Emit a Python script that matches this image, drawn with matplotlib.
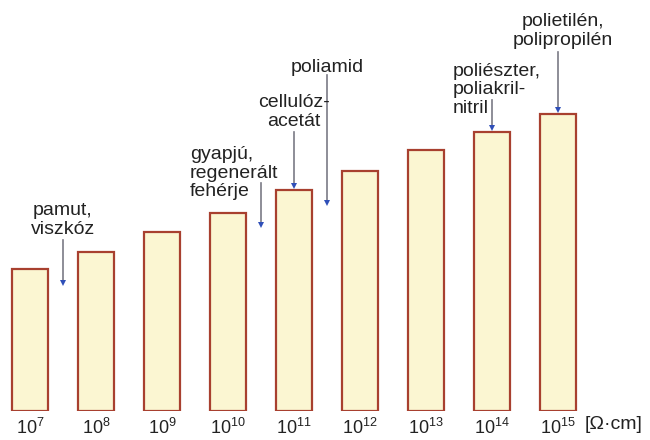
import matplotlib
matplotlib.use("Agg")
import matplotlib.pyplot as plt
import numpy as np

plt.rcParams['font.family'] = ['Liberation Sans', 'DejaVu Sans']
plt.rcParams['mathtext.fontset'] = 'custom'
plt.rcParams['mathtext.rm'] = 'Liberation Sans'
plt.rcParams['mathtext.it'] = 'Liberation Sans'

# fajlagos ellenallas, oszlopok
exponents = [7, 8, 9, 10, 11, 12, 13, 14, 15]
heights = [142, 159, 179, 198, 221, 240, 261, 279, 297]

# feliratok: szoveg, szoveg helye, nyil x, nyil teteje, nyil hegye
labels = ["pamut,\nviszkóz", "gyapjú,\nregenerált\nfehérje", "cellulóz-\nacetát",
          "poliamid", "poliészter,\npoliakril-\nnitril", "polietilén,\npolipropilén"]
label_x = [0.5, 2.42, 4.0, 4.5, 6.41, 8.08]
label_y = [191, 238, 299, 344, 321, 380]
label_ha = ["center", "left", "center", "center", "left", "center"]
arrow_x = [0.5, 3.5, 4.0, 4.5, 7.0, 8.0]
arrow_top = [171, 228, 279, 336, 311, 359]
arrow_tip = [126, 184, 223, 206, 281, 299]

fig = plt.figure(figsize=(6.5, 4.4), dpi=100)
ax = fig.add_axes([0, 29 / 440, 1, 411 / 440])
ax.set_xlim(-30 / 66, 620 / 66)
ax.set_ylim(0, 411)
for s in ax.spines.values():
    s.set_visible(False)
ax.set_yticks([])

x = np.arange(len(exponents))
ax.bar(x, heights, width=0.545, color="#fbf6d2", edgecolor="#a8402f", linewidth=1.6)

ax.set_xticks(x)
ax.set_xticklabels([r"$10^{%d}$" % e for e in exponents], fontsize=13, color="#222222")
ax.tick_params(axis="x", length=0, pad=5)
ax.text(8.41, -13, "[Ω·cm]", fontsize=14, color="#222222", va="center", ha="left",
        clip_on=False)

for t, tx, ty, ha, axx, a0, a1 in zip(labels, label_x, label_y, label_ha,
                                       arrow_x, arrow_top, arrow_tip):
    ax.text(tx, ty, t, ha=ha, va="center", fontsize=14, color="#222222", linespacing=1.12)
    ax.plot([axx, axx], [a0, a1 + 3], color="#7a7a85", lw=1.2)
    ax.plot(axx, a1 + 2, marker="v", color="#2f4fb8", markersize=5, markeredgewidth=0)

fig.savefig("out.png", dpi=100)
